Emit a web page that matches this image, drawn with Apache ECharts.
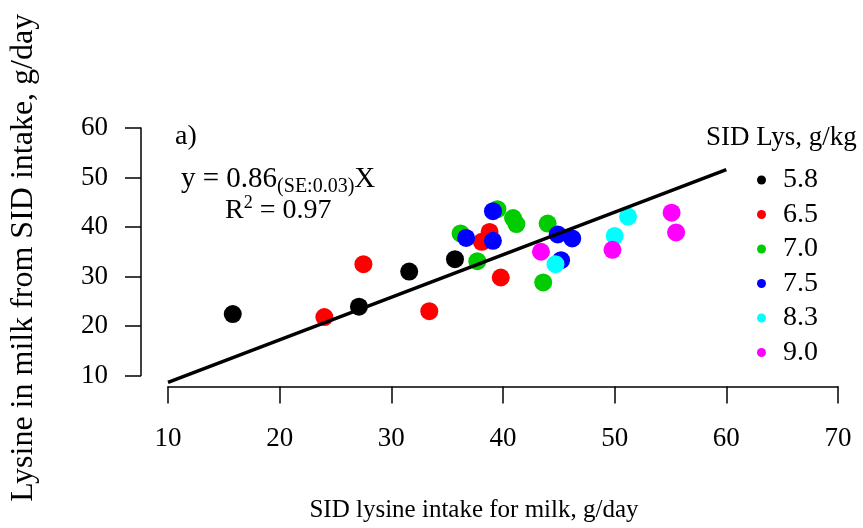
<!DOCTYPE html>
<html>
<head>
<meta charset="utf-8">
<script src="https://cdn.jsdelivr.net/npm/echarts@6/dist/echarts.min.js"></script>
<style>
html,body{margin:0;padding:0;background:#fff;}
#chart{width:863px;height:528px;}
</style>
</head>
<body>
<div id="chart"></div>
<script>
// ---- data ----
const levels = ['5.8', '6.5', '7.0', '7.5', '8.3', '9.0'];
const colors = ['#000000', '#ff0000', '#00cc00', '#0000ff', '#00ffff', '#ff00ff'];
const lys58 = [[15.8, 22.4], [27.1, 23.9], [31.6, 31.0], [35.7, 33.5]];
const lys65 = [[24.0, 21.8], [27.5, 32.5], [33.4, 23.0], [38.8, 39.0], [38.1, 37.0], [39.8, 29.8]];
const lys70 = [[39.5, 43.6], [40.9, 41.8], [41.2, 40.6], [36.2, 38.7], [37.7, 33.1], [44.0, 40.7], [43.6, 28.8]];
const lys75 = [[39.1, 43.2], [36.7, 37.8], [39.1, 37.2], [44.9, 38.5], [46.2, 37.7], [45.2, 33.3]];
const lys83 = [[44.7, 32.5], [50.0, 38.2], [51.2, 42.1]];
const lys90 = [[43.4, 35.0], [49.8, 35.4], [55.1, 42.9], [55.5, 38.9]];
const regLine = [[10, 8.6], [60, 51.6]];
const xTicks = {min: 10, max: 70, interval: 10};
const yTicks = {min: 10, max: 60, interval: 10};

const groups = [lys58, lys65, lys70, lys75, lys83, lys90];
const FONT = '"Liberation Serif", "DejaVu Serif", serif';

const chart = echarts.init(document.getElementById('chart'), null, {renderer: 'canvas'});

const scatterSeries = groups.map((g, i) => ({
  name: levels[i],
  type: 'scatter',
  data: g,
  symbol: 'circle',
  symbolSize: 18,
  itemStyle: {color: colors[i], opacity: 1},
  z: 2
}));

chart.setOption({
  backgroundColor: '#ffffff',
  animation: false,
  textStyle: {fontFamily: FONT, color: '#000'},
  grid: {left: 168, right: 25, top: 128, bottom: 152.5},
  xAxis: {
    type: 'value',
    min: xTicks.min, max: xTicks.max, interval: xTicks.interval,
    offset: 11,
    splitLine: {show: false},
    axisLine: {show: true, onZero: false, lineStyle: {color: '#000', width: 1.5}},
    axisTick: {show: true, inside: false, length: 17, lineStyle: {color: '#000', width: 1.5}},
    axisLabel: {fontFamily: FONT, fontSize: 27, color: '#000', margin: 39},
    name: 'SID lysine intake for milk, g/day',
    nameLocation: 'middle',
    nameGap: 111,
    nameTextStyle: {fontFamily: FONT, fontSize: 25, color: '#000', padding: [0, 58, 0, 0]}
  },
  yAxis: {
    type: 'value',
    min: yTicks.min, max: yTicks.max, interval: yTicks.interval,
    offset: 27,
    splitLine: {show: false},
    axisLine: {show: true, onZero: false, lineStyle: {color: '#000', width: 1.5}},
    axisTick: {show: true, inside: false, length: 16, lineStyle: {color: '#000', width: 1.5}},
    axisLabel: {fontFamily: FONT, fontSize: 27, color: '#000', margin: 33},
    name: 'Lysine in milk from SID intake, g/day',
    nameLocation: 'middle',
    nameGap: 101,
    nameTextStyle: {fontFamily: FONT, fontSize: 32, color: '#000', padding: [0, 12, 0, 0]}
  },
  legend: {
    orient: 'vertical',
    left: 752,
    top: 161,
    data: levels,
    icon: 'circle',
    itemWidth: 9,
    itemHeight: 9,
    itemGap: 6.5,
    selectedMode: false,
    textStyle: {fontFamily: FONT, fontSize: 28, color: '#000', lineHeight: 24, padding: [0, 0, 0, 12]}
  },
  graphic: [
    {type: 'text', left: 706, top: 124, style: {text: 'SID Lys, g/kg', font: '27px ' + FONT, fill: '#000'}},
    {type: 'text', left: 175, top: 123, style: {text: 'a)', font: '28px ' + FONT, fill: '#000'}},
    {type: 'text', left: 181, top: 161, style: {
      text: '{m|y = 0.86}{s|(SE:0.03)}{m|X}',
      rich: {
        m: {fontFamily: FONT, fontSize: 29, fill: '#000', color: '#000', lineHeight: 32},
        s: {fontFamily: FONT, fontSize: 20, fill: '#000', color: '#000', lineHeight: 32, padding: [16, 0, 0, 0]}
      }
    }},
    {type: 'text', left: 225, top: 194, style: {
      text: '{m|R}{p|2}{m| = 0.97}',
      rich: {
        m: {fontFamily: FONT, fontSize: 28, fill: '#000', color: '#000', lineHeight: 32},
        p: {fontFamily: FONT, fontSize: 18, fill: '#000', color: '#000', lineHeight: 32, padding: [0, 0, 16, 0]}
      }
    }}
  ],
  series: scatterSeries.concat([{
    name: 'fit',
    type: 'line',
    data: regLine,
    showSymbol: false,
    symbol: 'none',
    clip: false,
    lineStyle: {color: '#000', width: 3.5},
    z: 4,
    silent: true
  }])
});
</script>
</body>
</html>
